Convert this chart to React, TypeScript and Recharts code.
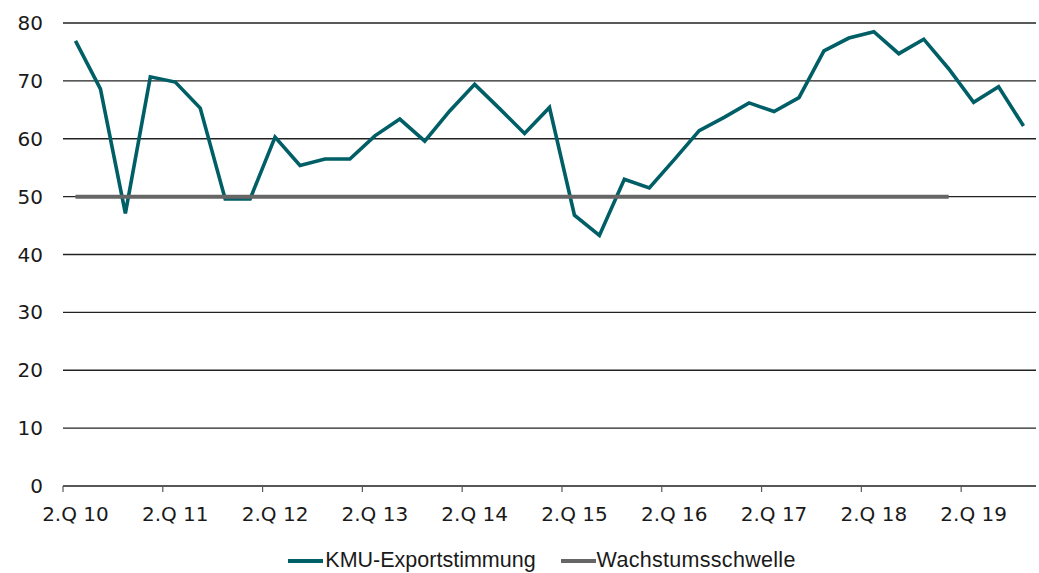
import { LineChart, Line, XAxis, YAxis, CartesianGrid, Legend } from 'recharts';

const quarters = [
  '2.Q 10', '3.Q 10', '4.Q 10',
  '1.Q 11', '2.Q 11', '3.Q 11', '4.Q 11',
  '1.Q 12', '2.Q 12', '3.Q 12', '4.Q 12',
  '1.Q 13', '2.Q 13', '3.Q 13', '4.Q 13',
  '1.Q 14', '2.Q 14', '3.Q 14', '4.Q 14',
  '1.Q 15', '2.Q 15', '3.Q 15', '4.Q 15',
  '1.Q 16', '2.Q 16', '3.Q 16', '4.Q 16',
  '1.Q 17', '2.Q 17', '3.Q 17', '4.Q 17',
  '1.Q 18', '2.Q 18', '3.Q 18', '4.Q 18',
  '1.Q 19', '2.Q 19', '3.Q 19', '4.Q 19',
];

const exportstimmung = [
  76.9, 68.6, 47.1,
  70.7, 69.8, 65.3, 49.6,
  49.6, 60.3, 55.4, 56.5,
  56.5, 60.5, 63.4, 59.6,
  64.8, 69.4, 65.2, 60.9,
  65.4, 46.8, 43.3, 53.0,
  51.5, 56.4, 61.4, 63.7,
  66.2, 64.7, 67.1, 75.2,
  77.4, 78.5, 74.7, 77.2,
  72.1, 66.3, 69.0, 62.2,
];

const wachstumsschwelle = [
  50, 50, 50,
  50, 50, 50, 50,
  50, 50, 50, 50,
  50, 50, 50, 50,
  50, 50, 50, 50,
  50, 50, 50, 50,
  50, 50, 50, 50,
  50, 50, 50, 50,
  50, 50, 50, 50,
  50, null, null, null,
];

const xTicks = [0, 4, 8, 12, 16, 20, 24, 28, 32, 36];
const yTicks = [0, 10, 20, 30, 40, 50, 60, 70, 80];

const WIDTH = 1039;
const HEIGHT = 573;
const LEFT = 63;
const RIGHT = 3;
const FONT = '"Liberation Sans", Arial, sans-serif';
const TICK_FONT = '"DejaVu Sans", sans-serif';
const TEAL = '#005f66';
const GREY = '#666666';

const bandPx = (WIDTH - LEFT - RIGHT) / quarters.length;

const data = quarters.map((q, i) => ({
  x: i + 0.5,
  label: q,
  kmu: exportstimmung[i],
  schwelle: wachstumsschwelle[i],
}));

// labels sit in the middle of the quarter, tick marks on its left edge
const QuarterTick = (props: any) => {
  const { x, y, payload } = props;
  return (
    <text x={x + bandPx / 2} y={y} dy="0.71em" textAnchor="middle" fill="#1a1a1a" fontSize={20} fontFamily={TICK_FONT}>
      {quarters[payload.value]}
    </text>
  );
};

const LegendBox = () => (
  <div style={{ display: 'flex', justifyContent: 'center', alignItems: 'center', paddingTop: 17, paddingLeft: 48, fontFamily: FONT, fontSize: 21.5, color: '#1a1a1a' }}>
    <span style={{ display: 'inline-block', width: 35, height: 4, background: TEAL, marginRight: 2 }} />
    <span>KMU-Exportstimmung</span>
    <span style={{ display: 'inline-block', width: 35, height: 4, background: GREY, marginLeft: 25, marginRight: 1 }} />
    <span style={{ letterSpacing: 0.3 }}>Wachstumsschwelle</span>
  </div>
);

export default function App() {
  return (
    <div style={{ position: 'absolute', left: 0, top: 0, background: '#fff' }}>
      <LineChart width={WIDTH} height={HEIGHT} data={data} margin={{ top: 23, right: RIGHT, left: 0, bottom: 0 }}>
        <CartesianGrid vertical={false} stroke="#222" strokeWidth={1.3} />
        <XAxis
          dataKey="x"
          type="number"
          domain={[0, 39]}
          ticks={xTicks}
          height={45}
          axisLine={{ stroke: '#595959', strokeWidth: 1.5 }}
          tickLine={{ stroke: '#595959', strokeWidth: 1.2 }}
          tickSize={6}
          tickMargin={15}
          tick={<QuarterTick />}
          interval={0}
        />
        <YAxis
          width={LEFT}
          domain={[0, 80]}
          ticks={yTicks}
          axisLine={false}
          tickLine={false}
          tickSize={0}
          tickMargin={20}
          tick={{ fill: '#1a1a1a', fontSize: 20, fontFamily: TICK_FONT }}
        />
        <Legend verticalAlign="bottom" height={42} content={<LegendBox />} />
        <Line dataKey="kmu" name="KMU-Exportstimmung" stroke={TEAL} strokeWidth={3.6} dot={false} isAnimationActive={false} />
        <Line dataKey="schwelle" name="Wachstumsschwelle" stroke={GREY} strokeWidth={4} dot={false} isAnimationActive={false} />
      </LineChart>
    </div>
  );
}
